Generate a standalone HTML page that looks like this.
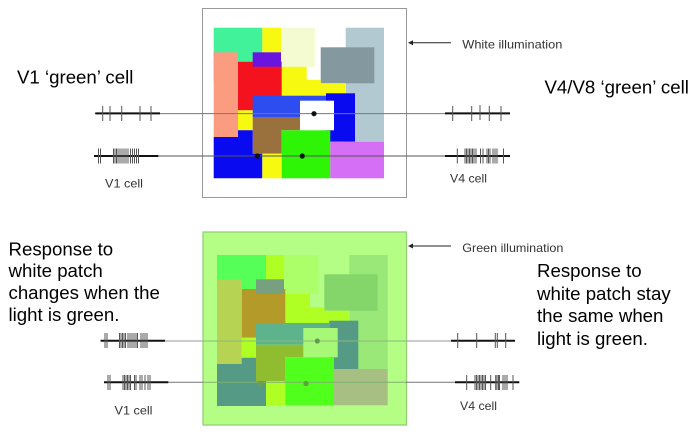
<!DOCTYPE html>
<html><head><meta charset="utf-8"><style>
html,body{margin:0;padding:0;background:#fff}
svg{display:block}
text{font-family:"Liberation Sans",sans-serif;fill:#000}
.s{font-size:12px;fill:#333}
.b{font-size:18.65px}
</style></head><body>
<svg width="691" height="439" viewBox="0 0 691 439" xmlns="http://www.w3.org/2000/svg">
<!-- top panel -->
<rect x="202.5" y="8.5" width="204" height="189" fill="#fff" stroke="#999" stroke-width="1"/>
<rect x="345.7" y="27.7" width="38.3" height="114" fill="#b3c9d2"/>
<rect x="320.7" y="47.3" width="53.6" height="36" fill="#84999f"/>
<rect x="213.7" y="27.7" width="48.6" height="34" fill="#41f29a"/>
<rect x="213.7" y="52.3" width="24.3" height="30" fill="#41f29a"/>
<rect x="262.3" y="27.7" width="18.7" height="24.6" fill="#f7f911"/>
<rect x="281" y="27.7" width="34" height="39" fill="#f4fbd0"/>
<polygon points="281.7,66.7 306.7,66.7 306.7,80 320.7,80 320.7,83.3 345.3,83.3 345.3,95.7 281.7,95.7" fill="#f7f911"/>
<rect x="238" y="61.7" width="43.7" height="48.6" fill="#f5121f"/>
<rect x="252.7" y="52.3" width="28.3" height="14.4" fill="#6a14e0"/>
<rect x="213.7" y="52.3" width="24.3" height="84.7" fill="#fb9c80"/>
<rect x="238" y="110.3" width="14.7" height="20" fill="#f7f911"/>
<rect x="326" y="93.3" width="29" height="48.4" fill="#0a0af0"/>
<rect x="252.7" y="95.7" width="73.3" height="22" fill="#2e4df0"/>
<rect x="300" y="100.7" width="34" height="29.6" fill="#fff"/>
<polygon points="252.7,117.7 300,117.7 300,130.3 281.7,130.3 281.7,153.7 252.7,153.7" fill="#9a713c"/>
<polygon points="213.7,137 238,137 238,130.3 252.7,130.3 252.7,153.7 262.3,153.7 262.3,178.3 213.7,178.3" fill="#0a0af0"/>
<rect x="262.3" y="153.7" width="19.4" height="24.6" fill="#f7f911"/>
<rect x="281.7" y="130.3" width="48.6" height="48" fill="#2ef505"/>
<rect x="330.3" y="141.7" width="53.7" height="36.6" fill="#d56ff5"/>
<line x1="95" y1="113.6" x2="446" y2="113.6" stroke="#777" stroke-width="1"/>
<line x1="95" y1="156" x2="446" y2="156" stroke="#555" stroke-width="1"/>
<circle cx="314" cy="113.7" r="2.6" fill="#111"/>
<circle cx="257.3" cy="156" r="2.6" fill="#111"/>
<circle cx="302.3" cy="156" r="2.6" fill="#111"/>
<!-- bottom panel -->
<rect x="203" y="232" width="203.5" height="193" fill="#b5fe85" stroke="#94d078" stroke-width="1.3"/>
<rect x="349.3" y="255" width="38.4" height="114" fill="#9ae878"/>
<rect x="324.3" y="274.3" width="53.4" height="36.4" fill="#84d66a"/>
<rect x="217" y="255" width="49" height="34" fill="#55ff58"/>
<rect x="266" y="255" width="18.3" height="24.7" fill="#b0ff24"/>
<rect x="284.3" y="255" width="34" height="38.7" fill="#acff68"/>
<polygon points="285.3,293.7 310,293.7 310,307.3 324.3,307.3 324.3,310.7 348.7,310.7 348.7,323 285.3,323" fill="#b0ff24"/>
<rect x="241.7" y="289" width="43.6" height="48.7" fill="#b49a28"/>
<rect x="256" y="279.3" width="28" height="14.4" fill="#76a080"/>
<rect x="217" y="279.3" width="24.7" height="84.7" fill="#b6d354"/>
<rect x="241.7" y="337.7" width="14.3" height="20" fill="#b0ff24"/>
<rect x="329.3" y="320.7" width="29" height="48.3" fill="#559a84"/>
<rect x="256" y="323" width="73.3" height="21.7" fill="#5cb38c"/>
<rect x="303.3" y="328" width="34.4" height="29.3" fill="#a8f878"/>
<polygon points="256,344.7 303.3,344.7 303.3,357.3 285.3,357.3 285.3,381 256,381" fill="#90bc30"/>
<polygon points="217,364 241.7,364 241.7,357.7 256,357.7 256,381 266,381 266,406 217,406" fill="#559a84"/>
<rect x="266" y="381" width="19.3" height="24.3" fill="#b0ff24"/>
<rect x="285.3" y="357.3" width="48.7" height="48" fill="#50ff1c"/>
<rect x="334" y="369" width="53.7" height="36.3" fill="#a8bf84"/>
<line x1="203" y1="341" x2="406" y2="341" stroke="#8cb880" stroke-width="1"/>
<line x1="203" y1="382.3" x2="406" y2="382.3" stroke="#7faf70" stroke-width="1"/>
<line x1="100" y1="341" x2="203" y2="341" stroke="#999" stroke-width="1"/>
<line x1="406" y1="341" x2="451" y2="341" stroke="#999" stroke-width="1"/>
<line x1="104" y1="382.3" x2="203" y2="382.3" stroke="#777" stroke-width="1"/>
<line x1="406" y1="382.3" x2="455" y2="382.3" stroke="#777" stroke-width="1"/>
<circle cx="317.3" cy="341" r="2.6" fill="#659a55"/>
<circle cx="261" cy="383.5" r="2.6" fill="#6fa040"/>
<circle cx="306" cy="383.5" r="2.6" fill="#5fa040"/>
<!-- spike trains -->
<g stroke="#111" stroke-width="2">
<line x1="95.3" y1="113.4" x2="160" y2="113.4"/>
<line x1="94" y1="156" x2="158.3" y2="156"/>
<line x1="445" y1="113.4" x2="510" y2="113.4"/>
<line x1="445" y1="156" x2="510" y2="156"/>
<line x1="100.7" y1="340.8" x2="165" y2="340.8"/>
<line x1="104" y1="382.3" x2="168.3" y2="382.3"/>
<line x1="451" y1="340.8" x2="515" y2="340.8"/>
<line x1="455" y1="382.3" x2="519.3" y2="382.3"/>
</g>
<g stroke="#555" stroke-width="1">
<path d="M102.700 106V121M110 106V121M121.700 106V121M140 106V121M151 106V121"/>
<path d="M98.500 148.500V163.500M100.500 148.500V163.500M113.500 148.500V163.500M115 148.500V163.500M116.500 148.500V163.500M118 148.500V163.500M120 148.500V163.500M122 148.500V163.500M124 148.500V163.500M126 148.500V163.500M128 148.500V163.500M130.500 148.500V163.500M132.500 148.500V163.500M134.500 148.500V163.500M136.500 148.500V163.500M138.500 148.500V163.500"/>
<path d="M452.700 106V121M471.700 106V121M480 105V120M489.300 106V121M501 106V121"/>
<path d="M457.300 148.500V163.500M465 148.500V163.500M466.500 148.500V163.500M468 148.500V163.500M469.500 148.500V163.500M471 148.500V163.500M472.500 148.500V163.500M474 148.500V163.500M476 148.500V163.500M480.500 148.500V163.500M483 148.500V163.500M487 148.500V163.500M488.500 148.500V163.500M490 148.500V163.500M493 148.500V163.500M495 148.500V163.500M497 148.500V163.500M503.500 148.500V163.500"/>
<path d="M105 333V348M107 333V348M119.500 333V348M121 333V348M122.500 333V348M124 333V348M125.500 333V348M128 333V348M130 333V348M132 333V348M134 333V348M136 333V348M137.500 333V348M141 333V348M143 333V348M145 333V348M147 333V348"/>
<path d="M108 375V390M110 375V390M123 375V390M124.500 375V390M126 375V390M127.500 375V390M129 375V390M130.500 375V390M134.500 375V390M136 375V390M140 375V390M142 375V390M145 375V390M148 375V390M150 375V390"/>
<path d="M457.700 333V348M476.700 333V348M495.300 333V348M497.300 333V348M505.700 333V348"/>
<path d="M466.700 375V390M475 375V390M476.500 375V390M478 375V390M479.500 375V390M481 375V390M482.500 375V390M484 375V390M485.500 375V390M490.700 375V390M495.700 375V390M497 375V390M498.500 375V390M499.500 375V390M503 375V390M505 375V390M507 375V390M513 375V390"/>
</g>
<!-- arrows -->
<g stroke="#222" stroke-width="1" fill="#222">
<line x1="412" y1="42.700" x2="451" y2="42.700"/>
<polygon points="408,42.700 413,40.200 413,45.200" stroke="none"/>
<line x1="412" y1="246" x2="451" y2="246"/>
<polygon points="408,246 413,243.500 413,248.500" stroke="none"/>
</g>
<!-- labels -->
<text class="s" x="462.300" y="48.300" textLength="100" lengthAdjust="spacingAndGlyphs">White illumination</text>
<text class="s" x="462.300" y="252" textLength="101" lengthAdjust="spacingAndGlyphs">Green illumination</text>
<text class="s" x="105" y="187.500" textLength="38" lengthAdjust="spacingAndGlyphs">V1 cell</text>
<text class="s" x="450" y="182.500" textLength="37" lengthAdjust="spacingAndGlyphs">V4 cell</text>
<text class="s" x="114.500" y="414.500" textLength="38" lengthAdjust="spacingAndGlyphs">V1 cell</text>
<text class="s" x="460" y="410" textLength="37" lengthAdjust="spacingAndGlyphs">V4 cell</text>
<text class="b" x="17" y="83.500">V1 ‘green’ cell</text>
<text class="b" x="544.500" y="93.500">V4/V8 ‘green’ cell</text>
<text class="b" x="8.500" y="255.500">Response to</text>
<text class="b" x="8.500" y="277">white patch</text>
<text class="b" x="8.500" y="299">changes when the</text>
<text class="b" x="8.500" y="321">light is green.</text>
<text class="b" x="537" y="277">Response to</text>
<text class="b" x="537" y="300">white patch stay</text>
<text class="b" x="537" y="322">the same when</text>
<text class="b" x="537" y="345">light is green.</text>
</svg>
</body></html>
